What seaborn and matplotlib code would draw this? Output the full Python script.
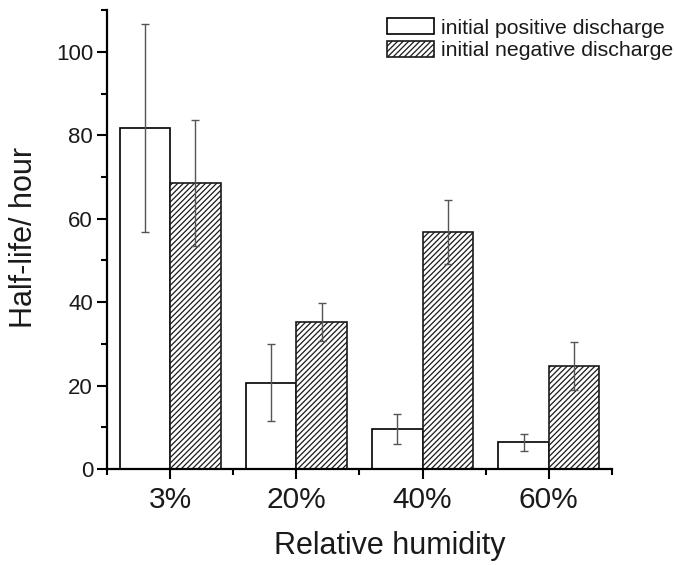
import matplotlib
matplotlib.use("Agg")
import matplotlib.pyplot as plt
import seaborn as sns
import pandas as pd
import numpy as np
from matplotlib.patches import Patch
from matplotlib.ticker import MultipleLocator

categories = ["3%", "20%", "40%", "60%"]
series_names = ["initial positive discharge", "initial negative discharge"]
positive_vals = [81.8, 20.7, 9.6, 6.4]
positive_err = [25.0, 9.2, 3.65, 2.0]
negative_vals = [68.5, 35.2, 56.8, 24.7]
negative_err = [15.1, 4.5, 7.6, 5.8]

df = pd.DataFrame({
    "humidity": categories * 2,
    "series": [series_names[0]] * 4 + [series_names[1]] * 4,
    "value": positive_vals + negative_vals,
})
errs = positive_err + negative_err

sns.set_style("ticks")
plt.rcParams["font.family"] = ["Liberation Sans", "DejaVu Sans"]
plt.rcParams["hatch.linewidth"] = 0.9
plt.rcParams["text.color"] = "#1a1a1a"
plt.rcParams["axes.labelcolor"] = "#1a1a1a"
plt.rcParams["xtick.color"] = "black"
plt.rcParams["ytick.color"] = "black"
plt.rcParams["xtick.labelcolor"] = "#1a1a1a"
plt.rcParams["ytick.labelcolor"] = "#1a1a1a"

fig = plt.figure(figsize=(6.75, 5.65), dpi=100)
ax = fig.add_axes([0.1585, 0.170, 0.748, 0.812])

sns.barplot(data=df, x="humidity", y="value", hue="series", order=categories,
            hue_order=series_names, palette=["white", "white"], errorbar=None,
            width=0.8, edgecolor="black", linewidth=1.2, ax=ax, legend=False)

HATCH = "//////"
patches = [p for p in ax.patches]
for i, p in enumerate(patches):
    if i >= len(categories):
        p.set_hatch(HATCH)
        p.set_edgecolor("#1a1a1a")

xs = [p.get_x() + p.get_width() / 2 for p in patches]
ys = [p.get_height() for p in patches]
ax.errorbar(xs, ys, yerr=errs, fmt="none", ecolor="#555555", elinewidth=1.0,
            capsize=3, capthick=1.0)

ax.set_xlim(-0.5, 3.5)
ax.set_ylim(0, 110)
ax.yaxis.set_major_locator(MultipleLocator(20))
ax.yaxis.set_minor_locator(MultipleLocator(10))
ax.set_xticks(range(len(categories)))
ax.set_xticklabels(categories)
ax.set_xticks([-0.5, 0.5, 1.5, 2.5, 3.5], minor=True)

for side in ["top", "right"]:
    ax.spines[side].set_visible(False)
for side in ["left", "bottom"]:
    ax.spines[side].set_linewidth(1.6)
    ax.spines[side].set_color("black")

ax.tick_params(axis="y", which="major", direction="out", length=7, width=1.5, labelsize=16, pad=3)
ax.tick_params(axis="y", which="minor", direction="out", length=4, width=1.5)
ax.tick_params(axis="x", which="major", direction="out", length=7, width=1.5, labelsize=21.5, pad=5)
ax.tick_params(axis="x", which="minor", direction="out", length=4, width=1.5)

ax.set_xlabel("Relative humidity", fontsize=22)
ax.set_ylabel("Half-life/ hour", fontsize=22)
ax.xaxis.set_label_coords(0.560, -0.135)
ax.yaxis.set_label_coords(-0.135, 0.505)

handles = [Patch(facecolor="white", edgecolor="black", linewidth=1.2),
           Patch(facecolor="white", edgecolor="#1a1a1a", hatch=HATCH, linewidth=1.2)]
ax.legend(handles, series_names, loc="upper left",
          bbox_to_anchor=(387 / 675, 1 - 18 / 565), bbox_transform=fig.transFigure,
          frameon=False, fontsize=15.3, handlelength=2.2, handleheight=0.8,
          handletextpad=0.33, labelspacing=0.15, borderaxespad=0, borderpad=0)

fig.savefig("out.png", dpi=100)
